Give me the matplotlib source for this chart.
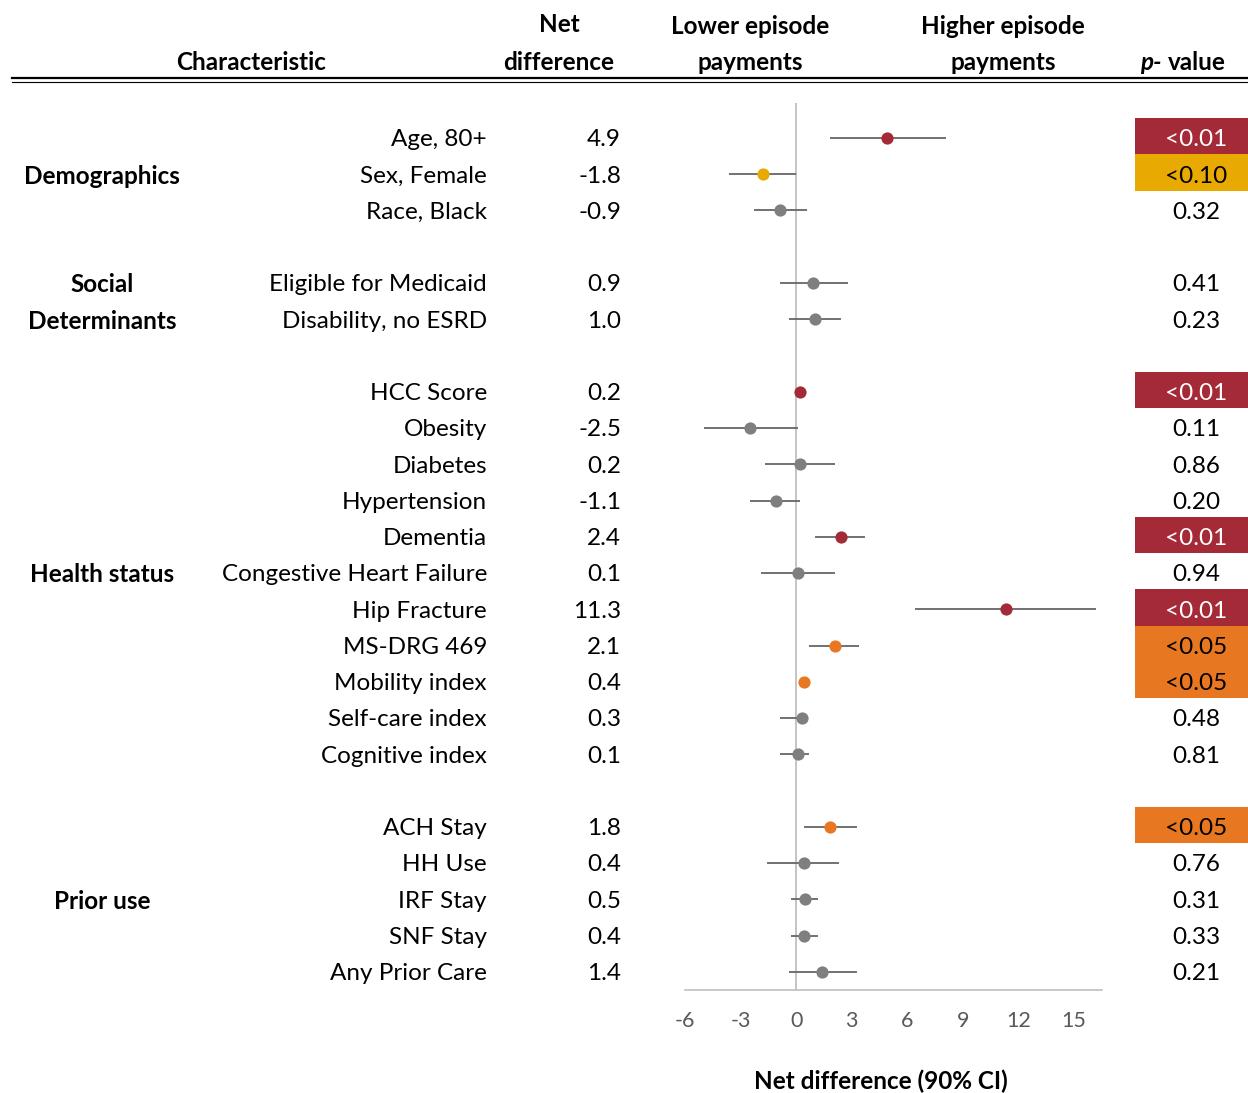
import matplotlib
matplotlib.use("Agg")
import matplotlib.pyplot as plt
import matplotlib.transforms as mtransforms
from matplotlib.patches import Rectangle
from matplotlib.lines import Line2D

# ---- data -----------------------------------------------------------------
groups = ["Demographics", "Social\nDeterminants", "Health status", "Prior use"]
group_sizes = [3, 2, 11, 5]

characteristics = [
    "Age, 80+", "Sex, Female", "Race, Black",
    "Eligible for Medicaid", "Disability, no ESRD",
    "HCC Score", "Obesity", "Diabetes", "Hypertension", "Dementia",
    "Congestive Heart Failure", "Hip Fracture", "MS-DRG 469",
    "Mobility index", "Self-care index", "Cognitive index",
    "ACH Stay", "HH Use", "IRF Stay", "SNF Stay", "Any Prior Care",
]
net_diff = [4.9, -1.8, -0.9,
            0.9, 1.0,
            0.2, -2.5, 0.2, -1.1, 2.4, 0.1, 11.3, 2.1, 0.4, 0.3, 0.1,
            1.8, 0.4, 0.5, 0.4, 1.4]
ci_low = [1.8, -3.6, -2.3,
          -0.9, -0.4,
          0.1, -5.0, -1.7, -2.5, 1.0, -1.9, 6.4, 0.7, 0.3, -0.9, -0.9,
          0.4, -1.6, -0.3, -0.3, -0.4]
ci_high = [8.1, 0.0, 0.6,
           2.8, 2.4,
           0.3, 0.1, 2.1, 0.2, 3.7, 2.1, 16.2, 3.4, 0.5, 0.6, 0.7,
           3.3, 2.3, 1.2, 1.2, 3.3]
p_values = ["<0.01", "<0.10", "0.32",
            "0.41", "0.23",
            "<0.01", "0.11", "0.86", "0.20", "<0.01", "0.94", "<0.01",
            "<0.05", "<0.05", "0.48", "0.81",
            "<0.05", "0.76", "0.31", "0.33", "0.21"]
x_ticks = [-6, -3, 0, 3, 6, 9, 12, 15]

# ---- styling ---------------------------------------------------------------
FONT = "Lato"
plt.rcParams["font.family"] = [FONT, "DejaVu Sans"]
plt.rcParams["axes.unicode_minus"] = False
SIG_COLORS = {"<0.01": "#A52A38", "<0.05": "#E87722", "<0.10": "#E8A900"}
SIG_TEXT = {"<0.01": "white", "<0.05": "black", "<0.10": "black"}
NS_COLOR = "#7F7F7F"
FS = 17.5
TXT_DY = 0.05  # nudge row text onto the marker line

W, H = 1248, 1093
fig = plt.figure(figsize=(W / 100, H / 100), dpi=100)


def fx(px):
    return px / W


def fy(py):
    return 1 - py / H


# row positions: one blank row between groups
rows, group_rows = [], []
r = 0
for size in group_sizes:
    block = list(range(r, r + size))
    rows.extend(block)
    group_rows.append(block)
    r += size + 1

# forest panel
ax = fig.add_axes([fx(685), fy(990), fx(1102) - fx(685), fy(103) - fy(990)])
ax.set_xlim(-6, 16.5)
ax.set_ylim(23.5, -0.965)
for s in ["top", "right", "left"]:
    ax.spines[s].set_visible(False)
ax.spines["bottom"].set_color("#BFBFBF")
ax.spines["bottom"].set_linewidth(1.2)
ax.set_yticks([])
ax.set_xticks(x_ticks)
ax.tick_params(axis="x", length=0, pad=15, labelsize=15.5, labelcolor="#595959")
ax.axvline(0, color="#BFBFBF", lw=1.3, zorder=1)

for y, d, lo, hi, p in zip(rows, net_diff, ci_low, ci_high, p_values):
    col = SIG_COLORS.get(p, NS_COLOR)
    ax.hlines(y, lo, hi, color="#666666", lw=1.3, zorder=2)
    ax.plot(d, y, "o", ms=8.8, color=col, mec="none", zorder=3)

trans = mtransforms.blended_transform_factory(fig.transFigure, ax.transData)

# table text
for y, name, d, p in zip(rows, characteristics, net_diff, p_values):
    ty = y + TXT_DY
    ax.text(fx(487), ty, name, transform=trans, ha="right", va="center",
            fontsize=FS, color="black")
    ax.text(fx(621), ty, f"{d:.1f}", transform=trans, ha="right", va="center",
            fontsize=FS, color="black")
    if p in SIG_COLORS:
        ax.add_patch(Rectangle((fx(1135), y - 0.55), 1 - fx(1135), 1.0,
                               transform=trans, facecolor=SIG_COLORS[p],
                               edgecolor="none", clip_on=False, zorder=0))
    ax.text(fx(1196), ty, p, transform=trans, ha="center", va="center",
            fontsize=FS, color=SIG_TEXT.get(p, "black"))

# group labels, one text line per row
for g, block in zip(groups, group_rows):
    lines = g.split("\n")
    centre = (block[0] + block[-1]) / 2
    start = centre - (len(lines) - 1) / 2
    for i, line in enumerate(lines):
        ax.text(fx(102), start + i + TXT_DY, line, transform=trans,
                ha="center", va="center", fontsize=FS, fontweight="bold")

# header
hdr = dict(ha="center", va="center", fontsize=FS, fontweight="bold")
fig.text(fx(251), fy(62), "Characteristic", **hdr)
fig.text(fx(559), fy(25), "Net", **hdr)
fig.text(fx(559), fy(62), "difference", **hdr)
fig.text(fx(750), fy(26), "Lower episode", **hdr)
fig.text(fx(750), fy(62), "payments", **hdr)
fig.text(fx(1003), fy(26), "Higher episode", **hdr)
fig.text(fx(1003), fy(62), "payments", **hdr)
fig.text(fx(1162), fy(62), "p-", ha="right", va="center", fontsize=FS,
         fontweight="bold", fontstyle="italic")
fig.text(fx(1168), fy(62), "value", ha="left", va="center", fontsize=FS,
         fontweight="bold")

fig.add_artist(Line2D([fx(12), 1], [fy(78.3), fy(78.3)], color="black",
                      lw=1.6, transform=fig.transFigure))
fig.add_artist(Line2D([fx(12), 1], [fy(81.8), fy(81.8)], color="black",
                      lw=0.8, transform=fig.transFigure))

fig.text(fx(881), fy(1081), "Net difference (90% CI)", ha="center",
         va="center", fontsize=FS, fontweight="bold")

fig.savefig("out.png", dpi=100, facecolor="white")
